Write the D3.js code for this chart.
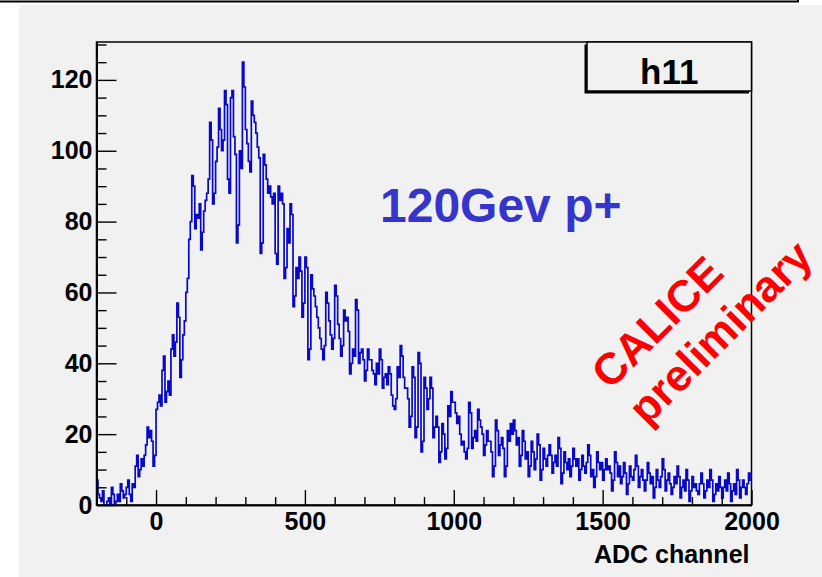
<!DOCTYPE html>
<html>
<head>
<meta charset="utf-8">
<script src="https://cdn.jsdelivr.net/npm/d3@7"></script>
<style>
  body { margin: 0; background: #ffffff; }
  svg { display: block; }
  text { font-family: "Liberation Sans", Arial, Helvetica, sans-serif; font-weight: bold; }
</style>
</head>
<body>
<svg id="chart" width="822" height="577"></svg>
<script>
// Histogram h11: ADC spectrum, 440 bins of width 5 from -200 to 2000
const xLow = -200;
const xHigh = 2000;
const binWidth = 5;
const counts = [
  7, 3, 2, 1, 4, 0, 0, 1, 2, 0, 5, 3, 0, 1, 3, 1, 6, 4, 2, 3,                 // -200 .. -100
  5, 7, 3, 1, 6, 5, 11, 14, 8, 10, 13, 11, 14, 17, 22, 19, 21, 18, 11, 14,    // -100 .. 0
  27, 29, 31, 28, 38, 42, 29, 32, 35, 31, 44, 48, 42, 46, 57, 53, 36, 41, 48, 52, // 0 .. 100
  60, 64, 75, 80, 93, 90, 78, 82, 81, 85, 72, 77, 83, 86, 88, 92, 108, 103, 85, 88, // 100 .. 200
  97, 101, 112, 106, 100, 103, 117, 113, 92, 88, 115, 117, 104, 99, 74, 79, 100, 95, 125, 118, // 200 .. 300
  106, 102, 97, 94, 114, 110, 108, 105, 101, 98, 71, 74, 99, 96, 92, 88, 90, 87, 85, 88, // 300 .. 400
  71, 68, 90, 86, 88, 85, 64, 67, 78, 74, 85, 82, 56, 59, 67, 64, 70, 66, 53, 57, // 400 .. 500
  70, 67, 41, 44, 65, 61, 59, 56, 53, 50, 47, 44, 41, 45, 60, 57, 52, 48, 44, 47, // 500 .. 600
  62, 59, 51, 47, 42, 45, 55, 52, 53, 49, 37, 40, 44, 42, 58, 55, 40, 43, 44, 41, // 600 .. 700
  35, 38, 44, 41, 41, 38, 37, 34, 40, 37, 44, 41, 33, 36, 37, 34, 39, 37, 31, 28, // 700 .. 800
  27, 30, 39, 36, 45, 42, 36, 33, 33, 30, 22, 25, 39, 36, 19, 22, 43, 40, 15, 18, // 800 .. 900
  36, 33, 27, 30, 36, 33, 19, 22, 25, 22, 12, 15, 23, 20, 13, 16, 28, 25, 32, 29, // 900 .. 1000
  29, 26, 23, 25, 20, 17, 18, 15, 13, 16, 29, 26, 16, 19, 21, 18, 27, 24, 22, 20, // 1000 .. 1100
  14, 17, 21, 18, 18, 15, 8, 11, 24, 21, 14, 17, 19, 16, 8, 11, 21, 18, 23, 20,   // 1100 .. 1200
  24, 21, 17, 19, 11, 14, 21, 18, 13, 15, 8, 11, 18, 15, 10, 13, 20, 17, 7, 10,   // 1200 .. 1300
  16, 13, 11, 14, 17, 14, 9, 12, 14, 11, 19, 16, 6, 9, 15, 12, 10, 13, 8, 11,     // 1300 .. 1400
  16, 13, 11, 13, 7, 10, 14, 11, 9, 12, 17, 14, 8, 10, 5, 8, 15, 12, 10, 12,      // 1400 .. 1500
  7, 10, 13, 10, 11, 9, 4, 7, 15, 12, 8, 11, 6, 8, 12, 9, 3, 6, 11, 8,            // 1500 .. 1600
  7, 10, 14, 11, 5, 8, 10, 7, 4, 7, 12, 9, 6, 8, 2, 5, 10, 7, 5, 8,               // 1600 .. 1700
  13, 10, 4, 7, 9, 6, 3, 5, 8, 6, 11, 8, 2, 5, 7, 4, 10, 7, 1, 4,                 // 1700 .. 1800
  8, 5, 6, 4, 3, 6, 9, 6, 2, 4, 7, 5, 10, 7, 1, 3, 6, 4, 8, 5,                    // 1800 .. 1900
  2, 5, 7, 4, 9, 6, 1, 4, 6, 3, 10, 7, 2, 5, 7, 5, 3, 6, 9, 7                     // 1900 .. 2000
];
const yMax = 130.7;
const xTicksMajor = [0, 500, 1000, 1500, 2000];
const xTicksMinorStep = 100;
const yTicksMajor = [0, 20, 40, 60, 80, 100, 120];
const yTicksMinorStep = 5;
const histName = "h11";
const beamLabel = "120Gev p+";
const watermark = ["CALICE", "preliminary"];
const xTitle = "ADC channel";

const svg = d3.select("#chart");
const frame = { left: 96.5, right: 751.5, top: 42, bottom: 505 };

// canvas and the edge of the box above it
svg.append("rect").attr("x", 19).attr("y", 5).attr("width", 822 - 19).attr("height", 577 - 5)
  .attr("fill", "#f1f1f1");
svg.append("path").attr("d", "M0,1.5H798V0").attr("fill", "none")
  .attr("stroke", "#000").attr("stroke-width", 2);

const x = d3.scaleLinear().domain([xLow, xHigh]).range([frame.left, frame.right]);
const y = d3.scaleLinear().domain([0, yMax]).range([frame.bottom, frame.top]);

// plot frame
svg.append("rect")
  .attr("x", frame.left).attr("y", frame.top)
  .attr("width", frame.right - frame.left).attr("height", frame.bottom - frame.top)
  .attr("fill", "#f1f1f1").attr("stroke", "#000").attr("stroke-width", 1.5);

// histogram as a step outline
const steps = counts.map((c, i) => [xLow + i * binWidth, c]);
steps.push([xLow + counts.length * binWidth, counts[counts.length - 1]]);
const line = d3.line().x(d => x(d[0])).y(d => y(d[1])).curve(d3.curveStepAfter);
svg.append("path").datum(steps).attr("d", line)
  .attr("fill", "none").attr("stroke", "#0808c8").attr("stroke-width", 1.7)
  .attr("stroke-linejoin", "miter");

// axes (ticks pointing into the frame)
function styleAxis(g) {
  g.selectAll(".domain").attr("stroke", "#000").attr("stroke-width", 1.6);
  g.selectAll(".tick line").attr("stroke", "#000").attr("stroke-width", 1.4);
  g.selectAll("text").attr("fill", "#000").style("font-size", "25px")
    .style("font-family", "'Liberation Sans', Arial, sans-serif").style("font-weight", "bold");
}
const xMinor = d3.range(xLow, xHigh + 1, xTicksMinorStep).filter(v => !xTicksMajor.includes(v));
svg.append("g").attr("transform", `translate(0,${frame.bottom})`)
  .call(d3.axisBottom(x).tickValues(xMinor).tickSize(-8).tickSizeOuter(0).tickFormat(""))
  .call(styleAxis);
svg.append("g").attr("transform", `translate(0,${frame.bottom})`)
  .call(d3.axisBottom(x).tickValues(xTicksMajor).tickSize(-15).tickSizeOuter(0).tickPadding(7).tickFormat(d3.format("d")))
  .call(styleAxis);

const yMinor = d3.range(0, yMax, yTicksMinorStep).filter(v => !yTicksMajor.includes(v));
svg.append("g").attr("transform", `translate(${frame.left},0)`)
  .call(d3.axisLeft(y).tickValues(yMinor).tickSize(-10).tickSizeOuter(0).tickFormat(""))
  .call(styleAxis);
svg.append("g").attr("transform", `translate(${frame.left},0)`)
  .call(d3.axisLeft(y).tickValues(yTicksMajor).tickSize(-20).tickSizeOuter(0).tickPadding(4).tickFormat(d3.format("d")))
  .call(styleAxis);

// axis title
svg.append("text").attr("x", frame.right - 2).attr("y", 563)
  .attr("text-anchor", "end").style("font-size", "25px").attr("fill", "#000")
  .text(xTitle);

// title box with shadow
const box = { x: 587, y: 42, w: frame.right - 587, h: 49 };
svg.append("rect").attr("x", box.x - 2.5).attr("y", box.y + 2.5).attr("width", box.w).attr("height", box.h)
  .attr("fill", "#000");
svg.append("rect").attr("x", box.x).attr("y", box.y).attr("width", box.w).attr("height", box.h)
  .attr("fill", "#f1f1f1").attr("stroke", "#000").attr("stroke-width", 1.5);
svg.append("text").attr("x", box.x + box.w / 2).attr("y", 84)
  .attr("text-anchor", "middle").style("font-size", "35px").attr("fill", "#000")
  .text(histName);

// beam label
svg.append("text").attr("x", 380).attr("y", 222)
  .style("font-size", "48px").attr("fill", "#3535cc")
  .text(beamLabel);

// watermark
const wmCenters = [[657, 322], [720, 332]];
watermark.forEach((t, i) => {
  svg.append("text")
    .attr("transform", `translate(${wmCenters[i][0]},${wmCenters[i][1]}) rotate(-45)`)
    .attr("text-anchor", "middle").attr("dominant-baseline", "central")
    .style("font-size", "44px").attr("fill", "#ff0000")
    .text(t);
});
</script>
</body>
</html>
